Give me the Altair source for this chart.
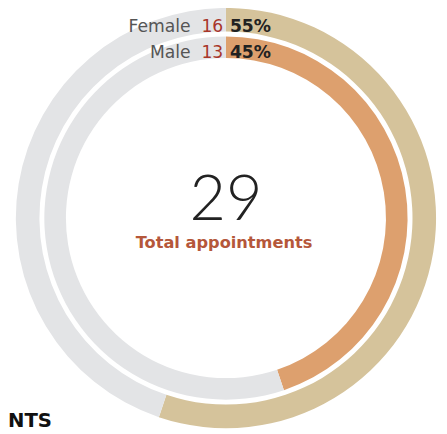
import altair as alt
import pandas as pd

# ---- data ----
ring = ["outer", "outer", "inner", "inner"]
segment = ["Female", "rest", "Male", "rest"]
counts = [16, 13, 13, 16]
seg_colors = ["#d5c39b", "#e3e4e6", "#dda06e", "#e3e4e6"]
seg_order = [0, 1, 0, 1]

total_value = ["29"]
total_label = ["Total appointments"]
label_names = ["Female", "Male"]
label_counts = ["16", "13"]
label_pcts = ["55%", "45%"]
title_tail = ["NTS"]

df = pd.DataFrame({"ring": ring, "segment": segment, "count": counts,
                   "color": seg_colors, "order": seg_order})

CX, CY = 222, 210

def ring_layer(name, r_out, r_in):
    return (
        alt.Chart(df[df["ring"] == name])
        .mark_arc(radius=r_out, radius2=r_in, stroke=None)
        .encode(
            theta=alt.Theta("count:Q", stack=True),
            color=alt.Color("color:N", scale=None),
            order=alt.Order("order:Q"),
            x=alt.value(CX),
            y=alt.value(CY),
        )
    )

outer = ring_layer("outer", 214, 190)
inner = ring_layer("inner", 185, 163)

label_font = "DejaVu Sans"
layers = [outer, inner]
row_y = [20, 47]
for i in range(2):
    d = pd.DataFrame({"name": [label_names[i]], "cnt": [label_counts[i]], "pct": [label_pcts[i]]})
    base = alt.Chart(d)
    layers.append(base.mark_text(align="right", baseline="alphabetic", font=label_font,
                                 fontSize=17.5, color="#555555")
                  .encode(text="name:N", x=alt.value(186), y=alt.value(row_y[i])))
    layers.append(base.mark_text(align="left", baseline="alphabetic", font=label_font,
                                 fontSize=17.5, color="#a8362b")
                  .encode(text="cnt:N", x=alt.value(197), y=alt.value(row_y[i])))
    layers.append(base.mark_text(align="left", baseline="alphabetic", font=label_font,
                                 fontSize=17.5, fontWeight="bold", color="#222222")
                  .encode(text="pct:N", x=alt.value(226), y=alt.value(row_y[i])))

center_df = pd.DataFrame({"v": total_value, "l": total_label})
layers.append(alt.Chart(center_df).mark_text(align="center", baseline="alphabetic", font="Lato",
                                             fontSize=64, fontWeight=300, color="#222222")
              .encode(text="v:N", x=alt.value(222), y=alt.value(212)))
layers.append(alt.Chart(center_df).mark_text(align="center", baseline="alphabetic", font=label_font,
                                             fontSize=16.5, fontWeight="bold", color="#b5573a")
              .encode(text="l:N", x=alt.value(220), y=alt.value(240)))

title_df = pd.DataFrame({"t": title_tail})
layers.append(alt.Chart(title_df).mark_text(align="left", baseline="alphabetic", font=label_font,
                                            fontSize=20, fontWeight="bold", color="#111111")
              .encode(text="t:N", x=alt.value(0), y=alt.value(423)))

chart = (
    alt.layer(*layers)
    .resolve_scale(theta="independent")
    .properties(width=439, height=426, padding=0, autosize=alt.AutoSizeParams(type="none"))
    .configure_view(stroke=None)
)

chart.save("out.html", embed_options={"renderer": "svg", "actions": False})
